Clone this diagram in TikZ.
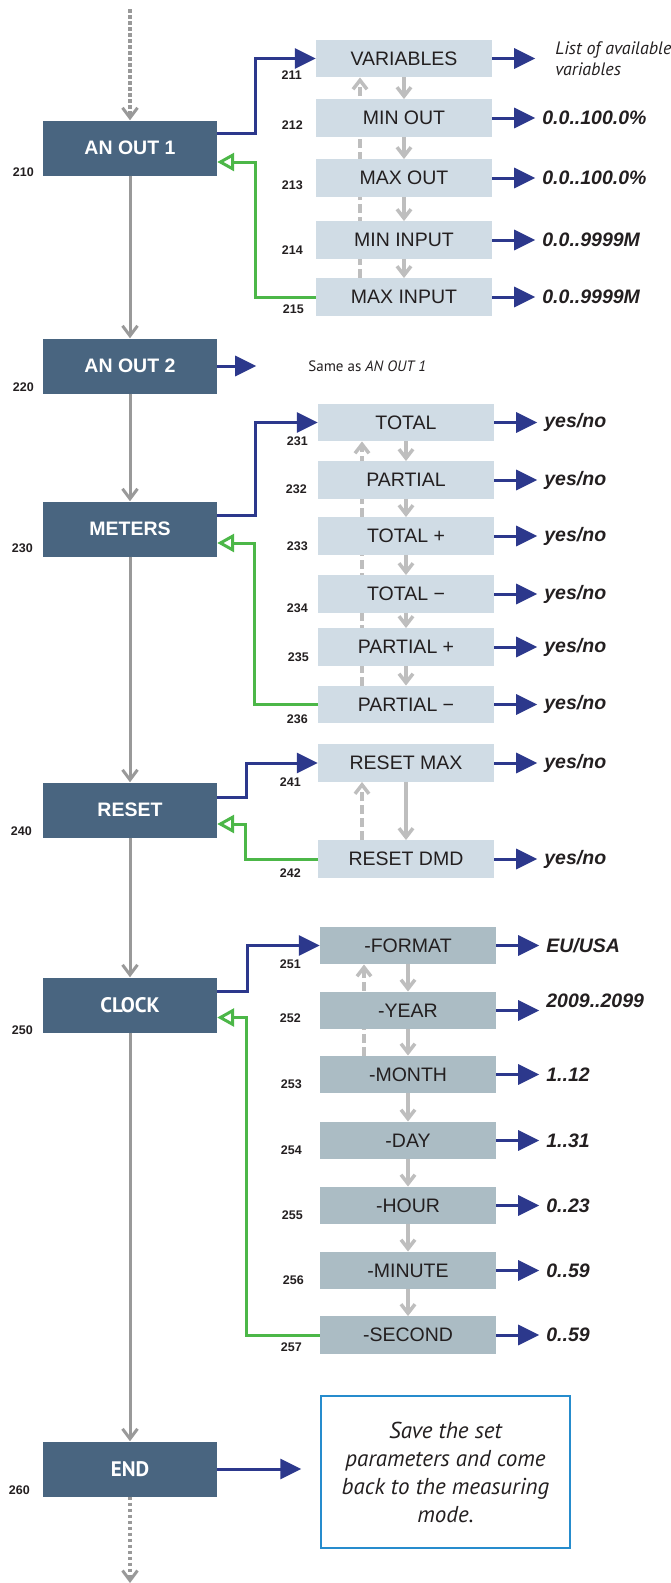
\documentclass[tikz,border=0pt]{standalone}
\usepackage{fontspec}
\setmainfont{Liberation Sans}
\newfontfamily\ptsans{PT Sans}
\usetikzlibrary{arrows.meta,positioning,calc,backgrounds}
\definecolor{MenuSlate}{RGB}{73,101,128}
\definecolor{MenuPale}{RGB}{208,220,229}
\definecolor{ClockPale}{RGB}{171,188,196}
\definecolor{MenuNavy}{RGB}{44,56,140}
\definecolor{MenuGreen}{RGB}{76,183,72}
\definecolor{MenuGray}{RGB}{153,153,153}
\definecolor{MenuSilver}{RGB}{190,190,190}
\definecolor{MenuInk}{RGB}{35,31,32}
\definecolor{NoteBlue}{RGB}{38,140,205}
\tikzset{
  mainbox/.style={rectangle, fill=MenuSlate, text=white, minimum width=174pt,
    minimum height=55pt, inner sep=0pt, font=\bfseries\fontsize{19.5}{22}\selectfont},
  softbox/.style={mainbox, font=\ptsans\bfseries\fontsize{21}{24}\selectfont},
  subbox/.style={rectangle, fill=MenuPale, text=MenuInk, minimum width=176pt,
    minimum height=37.5pt, inner sep=0pt, font=\fontsize{19.5}{22}\selectfont},
  clockbox/.style={subbox, fill=ClockPale},
  numlbl/.style={anchor=base east, inner sep=0pt, text=MenuInk,
    font=\bfseries\fontsize{12.5}{14}\selectfont},
  valtext/.style={anchor=west, inner xsep=7pt, inner ysep=0pt, text=MenuInk,
    font=\bfseries\itshape\fontsize{19.5}{22}\selectfont},
  notebox/.style={rectangle, draw=NoteBlue, line width=1.5pt, minimum width=249pt,
    minimum height=152pt, align=center, text=MenuInk,
    font=\ptsans\itshape\fontsize{23}{28}\selectfont},
  flow/.style={-{Straight Barb[length=10pt,width=15pt,line width=3pt]}, line width=3pt, draw=MenuGray},
  flowdash/.style={flow, line width=4.5pt, dash pattern=on 3.5pt off 2.5pt},
  stepdown/.style={-{Straight Barb[length=9pt,width=14pt]}, line width=3.5pt, draw=MenuSilver},
  stepback/.style={stepdown, dash pattern=on 9pt off 4pt},
  enter/.style={-{Triangle[length=21pt,width=20pt]}, line width=3pt, draw=MenuNavy},
  leave/.style={-{Triangle[open,length=17pt,width=18pt]}, line width=3pt, draw=MenuGreen}
}
\begin{document}
\begin{tikzpicture}[x=1pt, y=-1pt]
  \useasboundingbox (0,0) rectangle (670,1583);

  % main column
  \node[mainbox] (an1) at (130,148) {AN OUT 1};
  \node[mainbox] (an2) at (130,366) {AN OUT 2};
  \node[mainbox] (met) at (130,529) {METERS};
  \node[mainbox] (rst) at (130,810) {RESET};
  \node[softbox] (clk) at (130,1005) {CLOCK};
  \node[softbox] (fin) at (130,1469) {END};
  \coordinate (top) at (130,9);
  \coordinate (bottom) at (130,1583);

  \node[numlbl] (n210) at (34,176) {210};
  \node[numlbl] (n220) at (34,391) {220};
  \node[numlbl] (n230) at (33,552) {230};
  \node[numlbl] (n240) at (32,835) {240};
  \node[numlbl] (n250) at (33,1034) {250};
  \node[numlbl] (n260) at (30,1494) {260};

  \draw[flowdash] (top) -- (an1.north);
  \draw[flow] (an1) -- (an2);
  \draw[flow] (an2) -- (met);
  \draw[flow] (met) -- (rst);
  \draw[flow] (rst) -- (clk);
  \draw[flow] (clk) -- (fin);
  \draw[flowdash] (fin.south) -- (bottom);

  % AN OUT 1
  \node[subbox] (var) at (404,58.5) {VARIABLES};
  \node[subbox] (mino) at (404,118) {MIN OUT};
  \node[subbox] (maxo) at (404,178) {MAX OUT};
  \node[subbox] (mini) at (404,240) {MIN INPUT};
  \node[subbox] (maxi) at (404,297) {MAX INPUT};
  \node[numlbl] (n211) at (302,79) {211};
  \node[numlbl] (n212) at (303,129) {212};
  \node[numlbl] (n213) at (303,189) {213};
  \node[numlbl] (n214) at (303,254) {214};
  \node[numlbl] (n215) at (304,313) {215};
  \node[valtext, inner xsep=20pt, align=left,
    font=\ptsans\itshape\fontsize{18}{21}\selectfont, right=43pt of var.east] (varv)
    {List of available\\variables};
  \node[valtext, right=43pt of mino.east] (minov) {0.0..100.0\%};
  \node[valtext, right=43pt of maxo.east] (maxov) {0.0..100.0\%};
  \node[valtext, right=43pt of mini.east] (miniv) {0.0..9999M};
  \node[valtext, right=43pt of maxi.east] (maxiv) {0.0..9999M};
  \draw[enter] (var.east) -- (varv.west);
  \draw[enter] (mino.east) -- (minov.west);
  \draw[enter] (maxo.east) -- (maxov.west);
  \draw[enter] (mini.east) -- (miniv.west);
  \draw[enter] (maxi.east) -- (maxiv.west);
  \draw[stepdown] (var) -- (mino);
  \draw[stepdown] (mino) -- (maxo);
  \draw[stepdown] (maxo) -- (mini);
  \draw[stepdown] (mini) -- (maxi);
  \begin{scope}[on background layer]
    \draw[stepback] ([xshift=-44pt]maxi.north) -- ([xshift=-44pt]var.south);
  \end{scope}
  \draw[enter] ([yshift=15pt]an1.east) -- ++(38,0) |- (var.west);
  \draw[leave] (maxi.west) -- ++(-60,0) |- ([yshift=-14pt]an1.east);

  % AN OUT 2
  \node[anchor=west, inner sep=0pt, text=MenuInk, font=\ptsans\fontsize{15}{17}\selectfont,
    right=91pt of an2.east] (same) {Same as \textit{AN OUT 1}};
  \draw[enter, shorten >=52pt] (an2.east) -- (same.west);

  % METERS
  \node[subbox] (tot) at (406,422.5) {TOTAL};
  \node[subbox] (par) at (406,480) {PARTIAL};
  \node[subbox] (totp) at (406,536) {TOTAL +};
  \node[subbox] (totm) at (406,594) {TOTAL −};
  \node[subbox] (parp) at (406,647) {PARTIAL +};
  \node[subbox] (parm) at (406,704.5) {PARTIAL −};
  \node[numlbl] (n231) at (308,445) {231};
  \node[numlbl] (n232) at (307,493) {232};
  \node[numlbl] (n233) at (308,550) {233};
  \node[numlbl] (n234) at (308,612) {234};
  \node[numlbl] (n235) at (309,661) {235};
  \node[numlbl] (n236) at (308,723) {236};
  \node[valtext, right=43pt of tot.east] (totv) {yes/no};
  \node[valtext, right=43pt of par.east] (parv) {yes/no};
  \node[valtext, right=43pt of totp.east] (totpv) {yes/no};
  \node[valtext, right=43pt of totm.east] (totmv) {yes/no};
  \node[valtext, right=43pt of parp.east] (parpv) {yes/no};
  \node[valtext, right=43pt of parm.east] (parmv) {yes/no};
  \draw[enter] (tot.east) -- (totv.west);
  \draw[enter] (par.east) -- (parv.west);
  \draw[enter] (totp.east) -- (totpv.west);
  \draw[enter] (totm.east) -- (totmv.west);
  \draw[enter] (parp.east) -- (parpv.west);
  \draw[enter] (parm.east) -- (parmv.west);
  \draw[stepdown] (tot) -- (par);
  \draw[stepdown] (par) -- (totp);
  \draw[stepdown] (totp) -- (totm);
  \draw[stepdown] (totm) -- (parp);
  \draw[stepdown] (parp) -- (parm);
  \begin{scope}[on background layer]
    \draw[stepback] ([xshift=-44pt]parm.north) -- ([xshift=-44pt]tot.south);
  \end{scope}
  \draw[enter] ([yshift=14pt]met.east) -- ++(38,0) |- (tot.west);
  \draw[leave] (parm.west) -- ++(-63,0) |- ([yshift=-14pt]met.east);

  % RESET
  \node[subbox] (rmax) at (406,763) {RESET MAX};
  \node[subbox] (rdmd) at (406,859) {RESET DMD};
  \node[numlbl] (n241) at (301,786) {241};
  \node[numlbl] (n242) at (301,877) {242};
  \node[valtext, right=43pt of rmax.east] (rmaxv) {yes/no};
  \node[valtext, right=43pt of rdmd.east] (rdmdv) {yes/no};
  \draw[enter] (rmax.east) -- (rmaxv.west);
  \draw[enter] (rdmd.east) -- (rdmdv.west);
  \draw[stepdown] (rmax) -- (rdmd);
  \draw[stepback] ([xshift=-44pt]rdmd.north) -- ([xshift=-44pt]rmax.south);
  \draw[enter] ([yshift=13pt]rst.east) -- ++(29,0) |- (rmax.west);
  \draw[leave] (rdmd.west) -- ++(-72,0) |- ([yshift=-14pt]rst.east);

  % CLOCK
  \node[clockbox] (fmt) at (408,945.5) {-FORMAT};
  \node[clockbox] (yr) at (408,1010.5) {-YEAR};
  \node[clockbox] (mon) at (408,1074.5) {-MONTH};
  \node[clockbox] (day) at (408,1140.5) {-DAY};
  \node[clockbox] (hr) at (408,1205.5) {-HOUR};
  \node[clockbox] (mnt) at (408,1270.5) {-MINUTE};
  \node[clockbox] (sec) at (408,1335) {-SECOND};
  \node[numlbl] (n251) at (301,968) {251};
  \node[numlbl] (n252) at (301,1022) {252};
  \node[numlbl] (n253) at (302,1088) {253};
  \node[numlbl] (n254) at (302,1154) {254};
  \node[numlbl] (n255) at (303,1219) {255};
  \node[numlbl] (n256) at (304,1284) {256};
  \node[numlbl] (n257) at (302,1351) {257};
  \node[valtext, right=43pt of fmt.east] (fmtv) {EU/USA};
  \node[valtext, right=43pt of yr.east, yshift=10pt] (yrv) {2009..2099};
  \node[valtext, right=43pt of mon.east] (monv) {1..12};
  \node[valtext, right=43pt of day.east] (dayv) {1..31};
  \node[valtext, right=43pt of hr.east] (hrv) {0..23};
  \node[valtext, right=43pt of mnt.east] (mntv) {0..59};
  \node[valtext, right=43pt of sec.east] (secv) {0..59};
  \draw[enter] (fmt.east) -- (fmtv.west);
  \draw[enter] (yr.east) -- (yr.east -| yrv.west);
  \draw[enter] (mon.east) -- (monv.west);
  \draw[enter] (day.east) -- (dayv.west);
  \draw[enter] (hr.east) -- (hrv.west);
  \draw[enter] (mnt.east) -- (mntv.west);
  \draw[enter] (sec.east) -- (secv.west);
  \draw[stepdown] (fmt) -- (yr);
  \draw[stepdown] (yr) -- (mon);
  \draw[stepdown] (mon) -- (day);
  \draw[stepdown] (day) -- (hr);
  \draw[stepdown] (hr) -- (mnt);
  \draw[stepdown] (mnt) -- (sec);
  \begin{scope}[on background layer]
    \draw[stepback] ([xshift=-44pt]mon.north) -- ([xshift=-44pt]fmt.south);
  \end{scope}
  \draw[enter] ([yshift=13.5pt]clk.east) -- ++(30,0) |- (fmt.west);
  \draw[leave] (sec.west) -- ++(-73,0) |- ([yshift=-12.5pt]clk.east);

  % END
  \node[notebox] (note) at (445.5,1472) {Save the set\\parameters and come\\back to the measuring\\mode.};
  \draw[enter, shorten >=19pt] (fin.east) -- (fin.east -| note.west);
\end{tikzpicture}
\end{document}
